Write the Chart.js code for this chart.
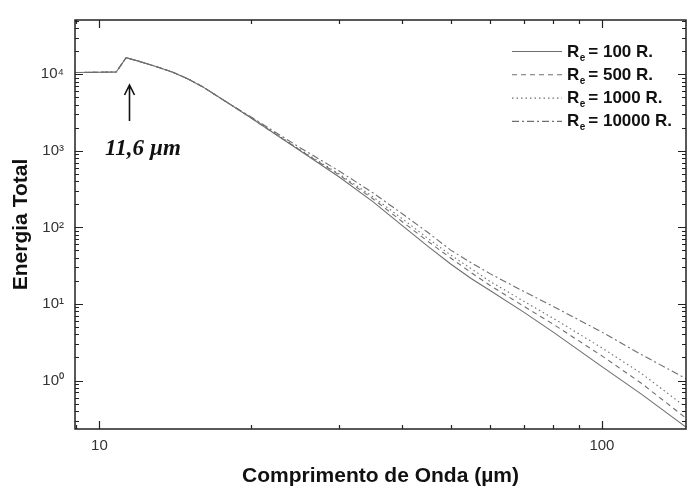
<!DOCTYPE html>
<html>
<head>
<meta charset="utf-8">
<script src="https://cdn.jsdelivr.net/npm/chart.js@4/dist/chart.umd.min.js"></script>
<style>
  html, body { margin: 0; padding: 0; background: #fff; }
  #wrap { width: 694px; height: 493px; }
</style>
</head>
<body>
<div id="wrap"><canvas id="c" width="694" height="493"></canvas></div>
<script>
// Wavelength samples (µm)
const wavelengths = [8.94, 10.8, 11.3, 12, 13, 14, 15, 16, 18, 20, 25, 30, 35, 40, 45, 50, 55, 60, 70, 80, 100, 120, 147];

// Total energy for each outer radius
const energyRe100   = [1.05e4, 1.07e4, 1.64e4, 1.47e4, 1.25e4, 1.06e4, 8680, 6930, 4230, 2706, 1015, 455, 216.5, 106.1, 56.9, 33.3, 21.3, 14.9, 7.77, 4.29, 1.52, 0.660, 0.247];
const energyRe500   = [1.05e4, 1.07e4, 1.64e4, 1.47e4, 1.25e4, 1.06e4, 8680, 6930, 4230, 2706, 1030, 483, 236.7, 119.5, 66.0, 39.8, 25.5, 17.3, 9.29, 5.44, 2.10, 0.915, 0.323];
const energyRe1000  = [1.05e4, 1.07e4, 1.64e4, 1.47e4, 1.25e4, 1.06e4, 8680, 6930, 4230, 2746, 1045, 498, 251.2, 130.7, 72.1, 43.5, 28.7, 19.5, 10.8, 6.50, 2.67, 1.23, 0.448];
const energyRe10000 = [1.05e4, 1.07e4, 1.64e4, 1.47e4, 1.25e4, 1.06e4, 8680, 6930, 4230, 2787, 1110, 544, 282.9, 151.6, 86.2, 50.5, 34.3, 24.7, 14.5, 9.29, 4.29, 2.17, 1.06];

// Legend radii and line styles
const radiusLabels = ['100', '500', '1000', '10000'];
const dashStyles = [[], [5, 4], [1.5, 3], [7, 3, 2, 3]];

// Axis labels
const xTickLabels = [10, 100];
const yTickLabels = { '1': '10\u2070', '10': '10\u00B9', '100': '10\u00B2', '1000': '10\u00B3', '10000': '10\u2074' };

// Annotated peak
const peakArrowX = 11.45;
const peakText = '11,6 \u00B5m';

const seriesValues = [energyRe100, energyRe500, energyRe1000, energyRe10000];
const LINE_COLOR = '#6f6f6f';
const SANS = '"Liberation Sans", Arial, sans-serif';

const datasets = seriesValues.map((vals, i) => ({
  label: 'Re = ' + radiusLabels[i] + ' R.',
  data: wavelengths.map((w, k) => ({ x: w, y: vals[k] })),
  borderColor: LINE_COLOR,
  borderWidth: 1.1,
  borderDash: dashStyles[i],
  pointRadius: 0,
  tension: 0,
  fill: false
}));

function minorValues(min, max) {
  const out = [];
  for (let e = -2; e <= 5; e++) {
    for (let m = 1; m <= 9; m++) {
      const v = m * Math.pow(10, e);
      if (v >= min && v <= max) out.push({ v, major: m === 1 });
    }
  }
  return out;
}

const framePlugin = {
  id: 'frame',
  afterDraw(chart) {
    const { ctx, chartArea: a, scales: { x, y } } = chart;
    ctx.save();
    // frame
    ctx.strokeStyle = '#222';
    ctx.lineWidth = 1.5;
    ctx.strokeRect(a.left, a.top, a.right - a.left, a.bottom - a.top);

    // inward ticks on all four sides
    ctx.lineWidth = 1.2;
    ctx.beginPath();
    minorValues(x.min, x.max).forEach(t => {
      const px = Math.round(x.getPixelForValue(t.v)) + 0.5;
      const len = t.major ? 8 : 4;
      ctx.moveTo(px, a.bottom); ctx.lineTo(px, a.bottom - len);
      ctx.moveTo(px, a.top); ctx.lineTo(px, a.top + len);
    });
    minorValues(y.min, y.max).forEach(t => {
      const py = Math.round(y.getPixelForValue(t.v)) + 0.5;
      const len = t.major ? 8 : 4;
      ctx.moveTo(a.left, py); ctx.lineTo(a.left + len, py);
      ctx.moveTo(a.right, py); ctx.lineTo(a.right - len, py);
    });
    ctx.stroke();

    // legend
    const lx0 = 512, lx1 = 562, tx = 567;
    radiusLabels.forEach((r, i) => {
      const rowY = 51.5 + i * 23.3;
      ctx.strokeStyle = LINE_COLOR;
      ctx.lineWidth = 1.1;
      ctx.setLineDash(dashStyles[i]);
      ctx.beginPath();
      ctx.moveTo(lx0, rowY); ctx.lineTo(lx1, rowY);
      ctx.stroke();
      ctx.setLineDash([]);
      ctx.fillStyle = '#111';
      ctx.textBaseline = 'alphabetic';
      ctx.textAlign = 'left';
      const base = rowY + 5;
      ctx.font = 'bold 17px ' + SANS;
      ctx.fillText('R', tx, base);
      const rw = ctx.measureText('R').width;
      ctx.font = 'bold 10px ' + SANS;
      ctx.fillText('e', tx + rw + 0.5, base + 4);
      ctx.font = 'bold 17px ' + SANS;
      ctx.fillText('= ' + r + ' R.', tx + rw + 9, base);
    });

    // peak annotation
    const ax = Math.round(x.getPixelForValue(peakArrowX)) + 0.5;
    ctx.strokeStyle = '#111';
    ctx.lineWidth = 1.6;
    ctx.beginPath();
    ctx.moveTo(ax, 121); ctx.lineTo(ax, 86);
    ctx.moveTo(ax - 5, 95); ctx.lineTo(ax, 85); ctx.lineTo(ax + 5, 95);
    ctx.stroke();
    ctx.fillStyle = '#111';
    ctx.font = 'italic bold 23px "Liberation Serif", "Times New Roman", serif';
    ctx.textAlign = 'left';
    ctx.textBaseline = 'alphabetic';
    ctx.fillText(peakText, 105, 155);
    ctx.restore();
  }
};

new Chart(document.getElementById('c'), {
  type: 'line',
  data: { datasets },
  options: {
    responsive: false,
    animation: false,
    devicePixelRatio: 1,
    layout: { padding: { top: 15, right: 2, left: 0, bottom: 0 } },
    plugins: { legend: { display: false }, tooltip: { enabled: false } },
    scales: {
      x: {
        type: 'logarithmic',
        min: 8.94,
        max: 147,
        grid: { display: false, drawTicks: false },
        border: { display: false },
        afterFit(s) { s.height = 64; },
        ticks: {
          autoSkip: false,
          maxRotation: 0,
          padding: 8,
          color: '#333',
          font: { family: SANS, size: 15 },
          callback: v => (xTickLabels.includes(v) ? String(v) : '')
        },
        title: {
          display: true,
          text: 'Comprimento de Onda (\u00B5m)',
          color: '#111',
          font: { family: SANS, size: 21, weight: 'bold' },
          padding: { top: 0, bottom: 4.4 }
        }
      },
      y: {
        type: 'logarithmic',
        min: 0.233,
        max: 51000,
        grid: { display: false, drawTicks: false },
        border: { display: false },
        afterFit(s) { s.width = 75; },
        ticks: {
          autoSkip: false,
          padding: 11,
          color: '#333',
          font: { family: SANS, size: 15 },
          callback: v => yTickLabels[String(v)] || ''
        },
        title: {
          display: true,
          text: 'Energia Total',
          color: '#111',
          font: { family: SANS, size: 21, weight: 'bold' },
          padding: { top: 8.4, bottom: 0 }
        }
      }
    }
  },
  plugins: [framePlugin]
});
</script>
</body>
</html>
